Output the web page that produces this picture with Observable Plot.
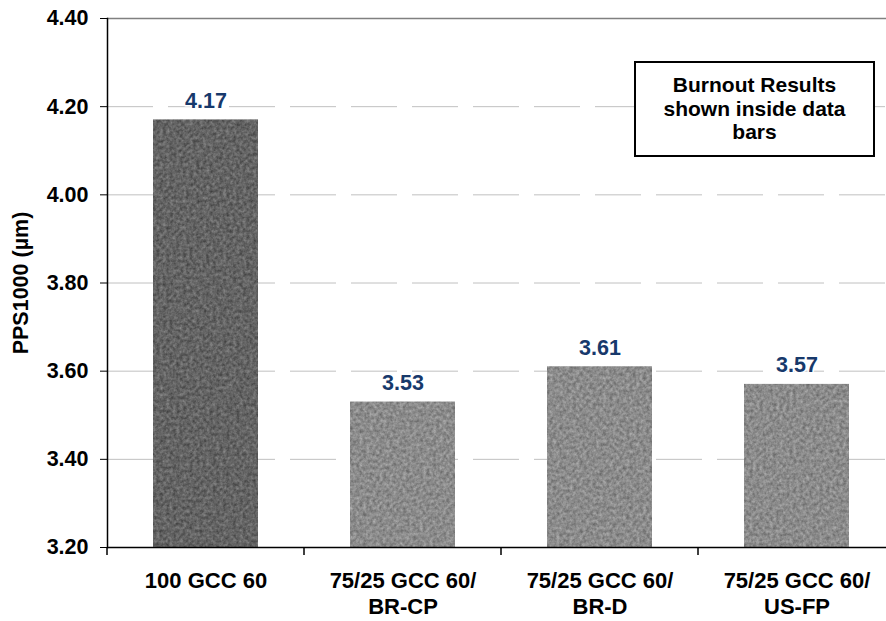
<!DOCTYPE html>
<html>
<head>
<meta charset="utf-8">
<script src="https://cdn.jsdelivr.net/npm/d3@7"></script>
<script src="https://cdn.jsdelivr.net/npm/@observablehq/plot@0.6"></script>
<style>
  html, body { margin: 0; padding: 0; background: #fff; overflow: hidden; }
  #wrap { position: relative; width: 886px; height: 621px; overflow: hidden; font-family: "Liberation Sans", Arial, sans-serif; }
  #note {
    position: absolute; left: 634px; top: 61px; width: 237px; height: 92px;
    border: 2px solid #000; background: #fff; box-sizing: content-box;
    font: bold 21px/23.5px "Liberation Sans", Arial, sans-serif; color: #000;
    text-align: center;
  }
  #note div { padding-top: 10px; }
</style>
</head>
<body>
<div id="wrap"></div>
<script>
// ---- data ----
const categories = ["100 GCC 60", "75/25 GCC 60/\nBR-CP", "75/25 GCC 60/\nBR-D", "75/25 GCC 60/\nUS-FP"];
const values = [4.17, 3.53, 3.61, 3.57];
const shades = ["dark", "light", "light", "light"];
const yTicks = [3.20, 3.40, 3.60, 3.80, 4.00, 4.20, 4.40];
const yLabel = "PPS1000 (µm)";
const noteLines = ["Burnout Results", "shown inside data", "bars"];

const data = categories.map((c, i) => ({cat: c, value: values[i], shade: shades[i]}));

const font = "Liberation Sans, Arial, sans-serif";
const navy = "#17396b";

const plot = Plot.plot({
  width: 886,
  height: 621,
  marginTop: 18,
  marginBottom: 74,
  marginLeft: 107,
  marginRight: 0,
  style: {fontFamily: font, background: "#fff", overflow: "hidden"},
  x: {domain: categories, range: [107, 895], padding: 0},
  y: {domain: [3.2, 4.4]},
  marks: [
    Plot.gridY(yTicks, {stroke: "#c0c0c0", strokeOpacity: 1, strokeDasharray: "46,15"}),
    Plot.ruleY([4.4], {stroke: "#808080", strokeWidth: 1.5}),
    Plot.barY(data.filter(d => d.shade === "dark"), {x: "cat", y1: 3.2, y2: "value", insetLeft: 46, insetRight: 46, fill: "url(#texDark)"}),
    Plot.barY(data.filter(d => d.shade === "light"), {x: "cat", y1: 3.2, y2: "value", insetLeft: 46, insetRight: 46, fill: "url(#texLight)"}),
    Plot.text(data, {x: "cat", y: "value", text: d => d.value.toFixed(2), lineAnchor: "bottom", dy: -12,
      fill: navy, stroke: "white", strokeWidth: 3, fontSize: 21.5, fontWeight: "bold"}),
    Plot.axisY({ticks: yTicks, tickFormat: d3.format(".2f"), tickSize: 7, tickPadding: 12, fontSize: 21.5,
      fontWeight: "bold", color: "#000", label: null}),
    Plot.axisX({tickSize: 0, tickPadding: 22, fontSize: 22, fontWeight: "bold", lineHeight: 1.18, label: null}),
    Plot.text([yLabel], {frameAnchor: "left", textAnchor: "middle", rotate: -90, dx: -86, fontSize: 21.5, fontWeight: "bold", fill: "#000"}),
    Plot.frame({anchor: "left", stroke: "#000", strokeWidth: 1.5}),
    Plot.ruleY([3.2], {stroke: "#000", strokeWidth: 1.5})
  ]
});

// textures used by the bar fills
d3.select(plot).insert("defs", ":first-child").html(`
  <filter id="nDark" x="0" y="0" width="1" height="1" color-interpolation-filters="sRGB">
    <feTurbulence type="fractalNoise" baseFrequency="0.3" numOctaves="3" seed="4" result="n"/>
    <feColorMatrix in="n" type="matrix" values="0.35 0 0 0 0.215  0.35 0 0 0 0.215  0.35 0 0 0 0.215  0 0 0 0 1" result="g"/>
    <feComposite in="g" in2="SourceGraphic" operator="in"/>
  </filter>
  <filter id="nLight" x="0" y="0" width="1" height="1" color-interpolation-filters="sRGB">
    <feTurbulence type="fractalNoise" baseFrequency="0.3" numOctaves="3" seed="9" result="n"/>
    <feColorMatrix in="n" type="matrix" values="0.35 0 0 0 0.37  0.35 0 0 0 0.37  0.35 0 0 0 0.37  0 0 0 0 1" result="g"/>
    <feComposite in="g" in2="SourceGraphic" operator="in"/>
  </filter>
  <pattern id="texDark" patternUnits="userSpaceOnUse" x="0" y="0" width="886" height="621">
    <rect width="886" height="621" fill="#000" filter="url(#nDark)"/>
  </pattern>
  <pattern id="texLight" patternUnits="userSpaceOnUse" x="0" y="0" width="886" height="621">
    <rect width="886" height="621" fill="#000" filter="url(#nLight)"/>
  </pattern>
`);

// category boundary ticks on the x axis, from the plot's own band scale
const xs = plot.scale("x");
const bounds = categories.map(c => xs.apply(c)).concat([xs.apply(categories[categories.length - 1]) + xs.bandwidth]);
const ys = plot.scale("y");
d3.select(plot).append("g").attr("stroke", "#000").attr("stroke-width", 1.5)
  .selectAll("line").data(bounds).join("line")
  .attr("x1", d => d).attr("x2", d => d)
  .attr("y1", ys.apply(3.2)).attr("y2", ys.apply(3.2) + 8);

const wrap = document.getElementById("wrap");
wrap.appendChild(plot);
const note = document.createElement("div");
note.id = "note";
const inner = document.createElement("div");
inner.innerHTML = noteLines.join("<br>");
note.appendChild(inner);
wrap.appendChild(note);
</script>
</body>
</html>
